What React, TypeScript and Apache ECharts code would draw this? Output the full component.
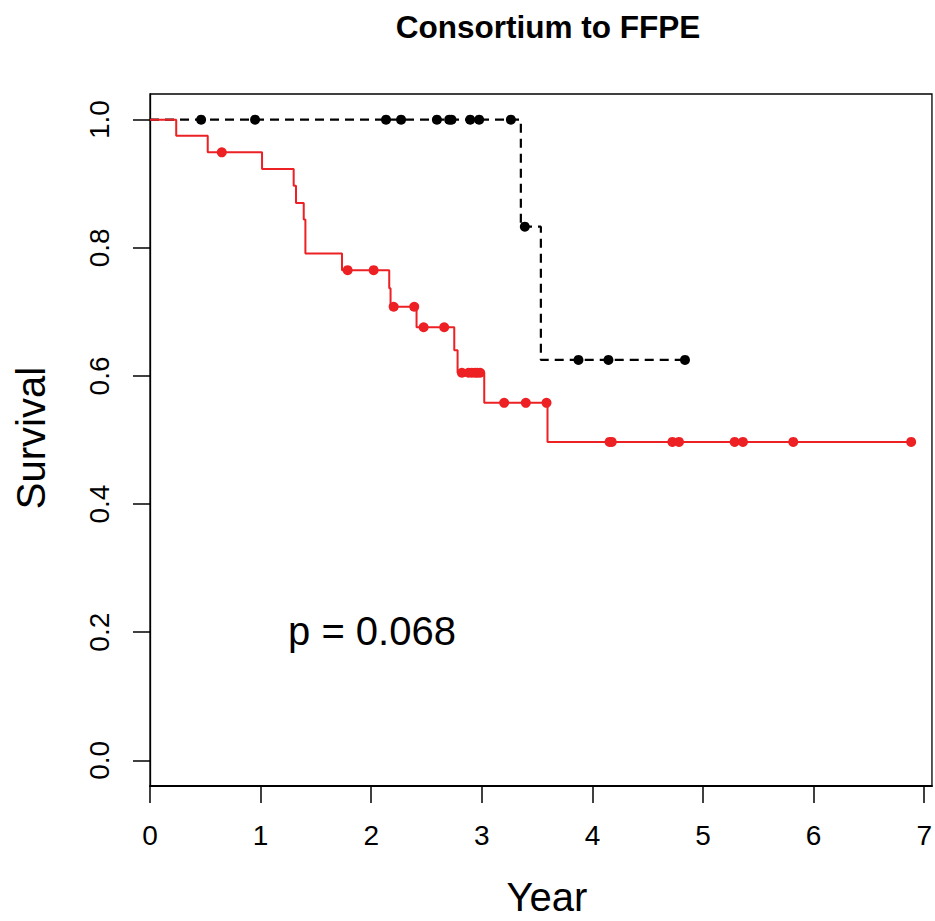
import React, { useEffect, useRef } from "react";
import * as echarts from "echarts";

// ---- data ----
const xTicks = [0, 1, 2, 3, 4, 5, 6, 7];
const yTicks = [0, 0.2, 0.4, 0.6, 0.8, 1.0];

// red (solid) group: step times and survival after each step
const redStepTimes = [0, 0.237, 0.522, 1.013, 1.299, 1.32, 1.39, 1.405, 1.736, 2.163, 2.175, 2.41, 2.751, 2.781, 3.022, 3.594, 6.882];
const redStepSurv = [1.0, 0.975, 0.949, 0.923, 0.897, 0.87, 0.844, 0.791, 0.765, 0.737, 0.708, 0.676, 0.64, 0.605, 0.558, 0.497, 0.497];
const redCensorTimes = [0.649, 1.787, 2.022, 2.203, 2.389, 2.474, 2.66, 2.82, 2.88, 2.91, 2.94, 2.96, 2.985, 3.202, 3.398, 3.585, 4.155, 4.175, 4.723, 4.783, 5.286, 5.361, 5.816, 6.882];
const redCensorSurv = [0.949, 0.765, 0.765, 0.708, 0.708, 0.676, 0.676, 0.605, 0.605, 0.605, 0.605, 0.605, 0.605, 0.558, 0.558, 0.558, 0.497, 0.497, 0.497, 0.497, 0.497, 0.497, 0.497, 0.497];

// black (dashed) group
const blackStepTimes = [0, 3.353, 3.534, 4.837];
const blackStepSurv = [1.0, 0.833, 0.625, 0.625];
const blackCensorTimes = [0.462, 0.95, 2.134, 2.27, 2.594, 2.705, 2.726, 2.895, 2.976, 3.263, 3.389, 3.874, 4.145, 4.837];
const blackCensorSurv = [1, 1, 1, 1, 1, 1, 1, 1, 1, 1, 0.833, 0.625, 0.625, 0.625];

const titleText = "Consortium to FFPE";
const pText = "p = 0.068";
const xName = "Year";
const yName = "Survival";

const RED = "#ed2024";
const FONT = "'Liberation Sans', Arial, Helvetica, sans-serif";

const zip = (a: number[], b: number[]) => a.map((v, i) => [v, b[i]]);

export default function App() {
  const ref = useRef<HTMLDivElement>(null);
  useEffect(() => {
    if (!ref.current) return;
    const chart = echarts.init(ref.current, null, { renderer: "svg" });
    chart.setOption({
      animation: false,
      backgroundColor: "#fff",
      grid: {
        left: 150,
        right: 2,
        top: 94,
        bottom: 135,
        show: true,
        borderColor: "#000",
        borderWidth: 1.3,
        backgroundColor: "transparent",
      },
      xAxis: {
        type: "value",
        min: 0,
        max: 7.07,
        axisLine: { show: true, onZero: false, lineStyle: { color: "#000", width: 2 } },
        axisTick: { show: true, length: 17, customValues: xTicks, lineStyle: { color: "#000", width: 1.5 } },
        axisLabel: {
          customValues: xTicks,
          color: "#000",
          fontSize: 28,
          fontFamily: FONT,
          margin: 35,
          formatter: (v: number) => String(v),
        },
        splitLine: { show: false },
      },
      yAxis: {
        type: "value",
        min: -0.04,
        max: 1.04,
        axisLine: { show: true, onZero: false, lineStyle: { color: "#000", width: 1.3 } },
        axisTick: { show: true, length: 17, customValues: yTicks, lineStyle: { color: "#000", width: 1.5 } },
        axisLabel: {
          customValues: yTicks,
          color: "#000",
          fontSize: 28,
          fontFamily: FONT,
          rotate: 90,
          margin: 37,
          formatter: (v: number) => v.toFixed(1),
        },
        splitLine: { show: false },
      },
      series: [
        {
          type: "line",
          step: "end",
          data: zip(blackStepTimes, blackStepSurv),
          showSymbol: false,
          lineStyle: { color: "#000", width: 2.2, type: [9, 6], cap: "butt" },
          z: 2,
        },
        {
          type: "scatter",
          data: zip(blackCensorTimes, blackCensorSurv),
          symbol: "circle",
          symbolSize: 10,
          itemStyle: { color: "#000", opacity: 1 },
          z: 3,
        },
        {
          type: "line",
          step: "end",
          data: zip(redStepTimes, redStepSurv),
          showSymbol: false,
          lineStyle: { color: RED, width: 2 },
          z: 4,
        },
        {
          type: "scatter",
          data: zip(redCensorTimes, redCensorSurv),
          symbol: "circle",
          symbolSize: 10,
          itemStyle: { color: RED, opacity: 1 },
          z: 5,
        },
      ],
      graphic: [
        {
          type: "text",
          x: 548,
          y: 27,
          style: {
            text: titleText,
            font: `bold 31.5px ${FONT}`,
            fill: "#000",
            align: "center",
            verticalAlign: "middle",
            textAlign: "center",
            textVerticalAlign: "middle",
          },
        },
        {
          type: "text",
          x: 372,
          y: 631,
          style: {
            text: pText,
            font: `40px ${FONT}`,
            fill: "#000",
            align: "center",
            verticalAlign: "middle",
            textAlign: "center",
            textVerticalAlign: "middle",
          },
        },
        {
          type: "text",
          x: 547,
          y: 897,
          style: {
            text: xName,
            font: `40px ${FONT}`,
            fill: "#000",
            align: "center",
            verticalAlign: "middle",
            textAlign: "center",
            textVerticalAlign: "middle",
          },
        },
        {
          type: "text",
          x: 31,
          y: 438,
          rotation: Math.PI / 2,
          style: {
            text: yName,
            font: `40px ${FONT}`,
            fill: "#000",
            align: "center",
            verticalAlign: "middle",
            textAlign: "center",
            textVerticalAlign: "middle",
          },
        },
      ],
    });
    return () => chart.dispose();
  }, []);
  return (
    <div
      ref={ref}
      style={{ position: "absolute", left: 0, top: 0, width: 935, height: 921 }}
    />
  );
}
